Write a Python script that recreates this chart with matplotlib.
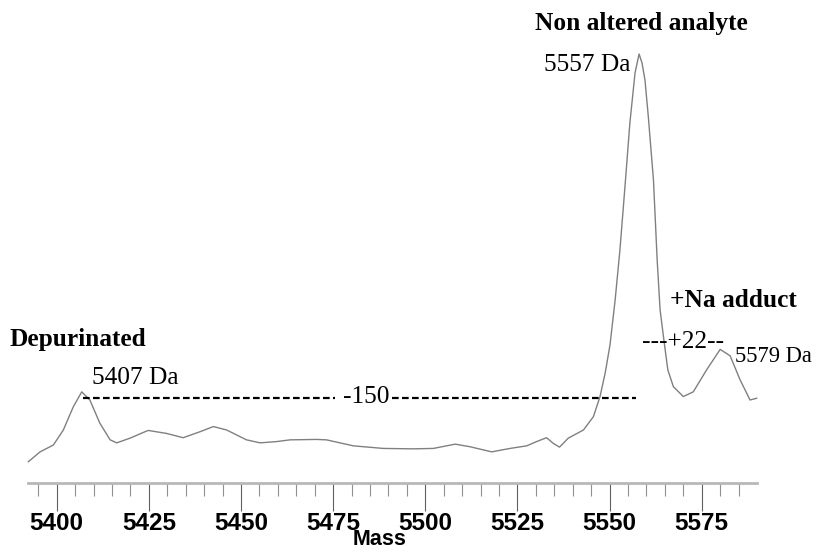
import numpy as np
import matplotlib
matplotlib.use("Agg")
import matplotlib.pyplot as plt
from matplotlib.ticker import MultipleLocator

# spectrum (mass in Da, relative intensity)
mass = [5392.3, 5395.5, 5399.1, 5401.8, 5404.5, 5406.8, 5409.0, 5411.7, 5414.5,
        5416.3, 5419.9, 5424.8, 5429.8, 5434.3, 5438.9, 5442.5, 5446.1, 5451.5,
        5455.2, 5459.7, 5463.3, 5470.5, 5473.2, 5480.5, 5488.6, 5496.7, 5502.2,
        5508.1, 5512.1, 5518.0, 5523.0, 5527.5, 5530.2, 5532.9, 5534.7, 5536.4,
        5538.8, 5542.9, 5545.6, 5547.4, 5548.8, 5550.1, 5551.5, 5552.8, 5554.2,
        5555.5, 5556.9, 5558.0, 5558.8, 5559.6, 5560.5, 5561.9, 5562.9, 5563.7,
        5564.8, 5565.8, 5567.3, 5570.0, 5572.7, 5576.3, 5580.0, 5582.7, 5585.4,
        5588.1, 5589.9]
intensity = [4.9, 7.2, 8.8, 12.3, 17.7, 21.2, 19.3, 13.9, 10.0,
             9.3, 10.4, 12.2, 11.5, 10.5, 11.9, 13.1, 12.3, 10.0,
             9.3, 9.6, 10.0, 10.1, 10.0, 8.6, 8.0, 7.9, 8.0,
             9.0, 8.4, 7.2, 8.0, 8.6, 9.6, 10.5, 9.2, 8.3,
             10.4, 12.3, 15.4, 20.1, 25.6, 32.1, 42.6, 54.3, 69.4,
             83.9, 95.6, 100.0, 97.9, 93.9, 85.4, 70.6, 52.0, 40.3,
             32.8, 26.3, 22.4, 20.1, 21.2, 26.3, 31.1, 29.6, 24.0,
             19.3, 19.7]

peak_labels = ["5407 Da", "5557 Da", "5579 Da"]
group_labels = ["Depurinated", "Non altered analyte", "+Na adduct"]
shift_labels = ["-150", "---+22--"]
tick_values = [5400, 5425, 5450, 5475, 5500, 5525, 5550, 5575]

serif = ["Liberation Serif", "DejaVu Serif"]
sans = ["Liberation Sans", "DejaVu Sans"]

fig = plt.figure(figsize=(8.16, 5.52), dpi=100)
ax = fig.add_axes([0.0347, 0.1255, 0.8926, 0.8745])

ax.plot(mass, intensity, color="#808080", lw=1.0, clip_on=False)

ax.set_xlim(5392.3, 5589.9)
ax.set_ylim(0, 112.6)

for s in ["top", "left", "right"]:
    ax.spines[s].set_visible(False)
ax.spines["bottom"].set_color("#b8b8b8")
ax.spines["bottom"].set_linewidth(2)
ax.set_yticks([])

ax.set_xticks(tick_values)
ax.xaxis.set_minor_locator(MultipleLocator(5))
ax.tick_params(axis="x", which="major", length=20, width=0.8, color="#606060", pad=1)
ax.tick_params(axis="x", which="minor", length=9.5, width=0.8, color="#909090")
for lab in ax.get_xticklabels():
    lab.set_fontfamily(sans)
    lab.set_fontweight("bold")
    lab.set_fontsize(17.5)

fig.text(380 / 816, 2 / 552, "Mass", ha="center", va="bottom",
         fontsize=15.5, fontweight="bold", family=sans)

# -150 shift marker
ax.plot([5407.2, 5475.5], [19.7, 19.7], color="black", lw=1.6, dashes=(3, 1.5))
ax.plot([5491.0, 5557.2], [19.7, 19.7], color="black", lw=1.6, dashes=(3, 1.5))
ax.text(5483.9, 20.1, shift_labels[0], ha="center", va="center",
        fontsize=18.3, family=serif)

# annotations
ax.text(5387.3, 33.3, group_labels[0], ha="left", va="center",
        fontsize=18.3, fontweight="bold", family=serif, clip_on=False)
ax.text(5409.5, 24.4, peak_labels[0], ha="left", va="center",
        fontsize=18.3, family=serif)
ax.text(5558.7, 107.2, group_labels[1], ha="center", va="center",
        fontsize=18.3, fontweight="bold", family=serif)
ax.text(5555.5, 97.4, peak_labels[1], ha="right", va="center",
        fontsize=18.3, family=serif)
ax.text(5566.4, 42.6, group_labels[2], ha="left", va="center",
        fontsize=18.3, fontweight="bold", family=serif)
ax.text(5558.7, 32.9, shift_labels[1], ha="left", va="center",
        fontsize=18.3, family=serif)
ax.text(5584.0, 29.4, peak_labels[2], ha="left", va="center",
        fontsize=16.3, family=serif, clip_on=False)

fig.savefig("out.png", dpi=100)
